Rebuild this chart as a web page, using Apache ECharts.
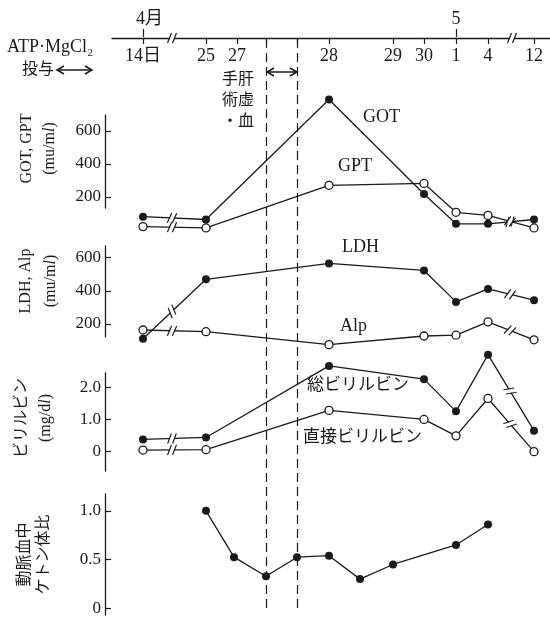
<!DOCTYPE html>
<html>
<head>
<meta charset="utf-8">
<script src="https://cdn.jsdelivr.net/npm/echarts@6/dist/echarts.min.js"></script>
<style>
  html, body { margin: 0; padding: 0; background: #fff; }
  #chart { width: 550px; height: 617px; }
</style>
</head>
<body>
<div id="chart"></div>
<script>
// 時間軸 (目盛の位置は任意単位、14日 = 0)
const dateLabels = ['14日', '25', '27', '28', '29', '30', '1', '4', '12']
const datePos = [0, 63, 94, 186, 250, 281, 313, 345, 391]
const monthLabels = ['4月', '5']
const monthPos = [0, 313]
const surgeryPos = [123, 154]
const axisBreaks = [29, 369]
const lineBreaks = [29, 367]

// 14, 25, 28, 30, 1, 4, 12
const labDays = [0, 63, 186, 281, 313, 345, 391]
const got = [79, 62, 791, 217, 36, 36, 62]
const gpt = [19, 11, 270, 281, 106, 87, 11]
const ldh = [112, 469, 564, 522, 333, 411, 343]
const alp = [164, 154, 76, 128, 133, 213, 105]
const biliTotal = [0.38, 0.44, 2.66, 2.25, 1.25, 3.01, 0.65]
const biliDirect = [0.05, 0.06, 1.28, 1.0, 0.49, 1.65, 0]

const ketoneDays = [63, 91, 123, 154, 186, 217, 250, 313, 345]
const ketone = [1.0, 0.525, 0.33, 0.525, 0.54, 0.30, 0.45, 0.65, 0.86]

const enzymeTicks = [200, 400, 600]
const biliTicks = [0, 1, 2]
const ketoneTicks = [0, 0.5, 1]

const ink = '#1a1a1a'
const serif = "'Liberation Serif', 'Noto Sans CJK JP', serif"
const xMin = -31
const xMax = 407

const panels = [
  { top: 115, height: 93, min: 132, max: 697, ticks: enzymeTicks, name: 'GOT, GPT\n(mu/m{i|l})', lh: 23, gap: 44, shift: 26 },
  { top: 246, height: 91, min: 122, max: 669, ticks: enzymeTicks, name: 'LDH, Alp\n(mu/m{i|l})', lh: 25, gap: 42, shift: 21 },
  { top: 373, height: 98, min: -0.6, max: 2.44, ticks: biliTicks, name: 'ビリルビン\n(mg/d{i|l})', lh: 24, gap: 47, shift: 8, dec: true },
  { top: 494, height: 121, min: -0.068, max: 1.173, ticks: ketoneTicks, name: '動脈血中\nケトン体比', lh: 19, gap: 52, shift: 0, dec: true },
]

const zip = (xs, ys) => xs.map((x, i) => [x, ys[i]])
// grid 0 has two x axes, so grid g (>0) uses xAxis g + 1
const xIdx = (g) => (g === 0 ? 0 : g + 1)

const lineSeries = (g, xs, ys, filled) => ({
  type: 'line',
  xAxisIndex: xIdx(g),
  yAxisIndex: g,
  data: zip(xs, ys),
  clip: false,
  symbol: 'circle',
  symbolSize: 8,
  lineStyle: { color: ink, width: 1.3 },
  itemStyle: filled ? { color: ink } : { color: '#fff', borderColor: ink, borderWidth: 1.3 },
  emphasis: { disabled: true },
  z: 3,
})

// 線上の省略記号 (//)
const breakSeries = (g, lines, breaks) => {
  const data = []
  lines.forEach((ln, li) => breaks.forEach((b) => data.push([b, li])))
  return {
    type: 'custom',
    xAxisIndex: xIdx(g),
    yAxisIndex: g,
    silent: true,
    z: 6,
    data,
    renderItem: (params, api) => {
      const bx = api.value(0)
      const ln = lines[api.value(1)]
      let i = 0
      while (i < ln.length - 2 && ln[i + 1][0] < bx) i++
      const a = api.coord(ln[i])
      const b = api.coord(ln[i + 1])
      const t = (bx - ln[i][0]) / (ln[i + 1][0] - ln[i][0])
      const ang = Math.atan2(b[1] - a[1], b[0] - a[0])
      return {
        type: 'group',
        x: a[0] + (b[0] - a[0]) * t,
        y: a[1] + (b[1] - a[1]) * t,
        rotation: -ang,
        children: [
          { type: 'rect', shape: { x: -2, y: -3, width: 4, height: 6 }, style: { fill: '#fff' } },
          { type: 'line', shape: { x1: -4.5, y1: 5, x2: -0.5, y2: -5 }, style: { stroke: ink, lineWidth: 1.2 } },
          { type: 'line', shape: { x1: 0.5, y1: 5, x2: 4.5, y2: -5 }, style: { stroke: ink, lineWidth: 1.2 } },
        ],
      }
    },
  }
}

const doubleArrow = (x1, x2, y) => ({
  type: 'group',
  children: [
    { type: 'line', shape: { x1, y1: y, x2, y2: y }, style: { stroke: ink, lineWidth: 1.5 } },
    { type: 'polyline', shape: { points: [[x1 + 7, y - 4], [x1, y], [x1 + 7, y + 4]] }, style: { stroke: ink, lineWidth: 1.5, fill: null } },
    { type: 'polyline', shape: { points: [[x2 - 7, y - 4], [x2, y], [x2 - 7, y + 4]] }, style: { stroke: ink, lineWidth: 1.5, fill: null } },
  ],
})

const label = (text, x, y, size, align) => ({
  type: 'text',
  x,
  y,
  style: { text, fill: ink, font: `${size || 18}px ${serif}`, align: align || 'left', verticalAlign: 'middle' },
})

const grids = [{ left: 112, right: 0, top: 37, height: 1 }]
const xAxes = [
  {
    gridIndex: 0, type: 'value', min: xMin, max: xMax, position: 'bottom',
    axisLine: { onZero: false, lineStyle: { color: ink, width: 1.3 } },
    axisTick: { customValues: datePos.concat(surgeryPos), length: 6, lineStyle: { color: ink, width: 1.2 } },
    axisLabel: {
      customValues: datePos, margin: 9, color: ink, fontSize: 18, fontFamily: serif,
      formatter: (v) => dateLabels[datePos.indexOf(v)],
    },
    splitLine: { show: false },
  },
  {
    gridIndex: 0, type: 'value', min: xMin, max: xMax, position: 'top',
    axisLine: { show: false, onZero: false },
    axisTick: { customValues: monthPos, length: 8, lineStyle: { color: ink, width: 1.2 } },
    axisLabel: {
      customValues: monthPos, margin: 9, color: ink, fontSize: 18, fontFamily: serif,
      formatter: (v) => {
        const s = monthLabels[monthPos.indexOf(v)]
        return v === monthPos[0] ? `{m|${s}}` : s
      },
      rich: { m: { fontSize: 18, fontFamily: serif, color: ink, padding: [0, 0, 0, 13] } },
    },
    splitLine: { show: false },
  },
]
const yAxes = [{ gridIndex: 0, type: 'value', min: 0, max: 1, show: false }]

panels.forEach((p, k) => {
  const g = k + 1
  grids.push({ left: 112, right: 0, top: p.top, height: p.height })
  xAxes.push({ gridIndex: g, type: 'value', min: xMin, max: xMax, show: false })
  yAxes.push({
    gridIndex: g, type: 'value', min: p.min, max: p.max, offset: 7,
    axisLine: { show: true, onZero: false, lineStyle: { color: ink, width: 1.3 } },
    axisTick: { show: true, inside: true, length: 6, customValues: p.ticks, lineStyle: { color: ink, width: 1.2 } },
    axisLabel: {
      customValues: p.ticks, margin: 4, color: ink, fontSize: 17, fontFamily: serif,
      formatter: (v) => (p.dec ? (v === 0 ? '0' : v.toFixed(1)) : String(v)),
    },
    splitLine: { show: false },
    name: p.name,
    nameLocation: 'middle',
    nameRotate: 90,
    nameGap: p.gap,
    nameTextStyle: {
      color: ink, fontSize: 16, fontFamily: serif, lineHeight: p.lh, padding: [0, 0, 0, p.shift],
      rich: { i: { fontStyle: 'italic', fontSize: 16, fontFamily: serif, color: ink } },
    },
  })
})

// 破線 (手術・肝虚血)
grids.push({ left: 112, right: 0, top: 38, bottom: 9 })
xAxes.push({ gridIndex: 5, type: 'value', min: xMin, max: xMax, show: false })
yAxes.push({ gridIndex: 5, type: 'value', min: 0, max: 1, show: false })

const series = [
  lineSeries(1, labDays, got, true),
  lineSeries(1, labDays, gpt, false),
  lineSeries(2, labDays, ldh, true),
  lineSeries(2, labDays, alp, false),
  lineSeries(3, labDays, biliTotal, true),
  lineSeries(3, labDays, biliDirect, false),
  lineSeries(4, ketoneDays, ketone, true),
  breakSeries(0, [[[xMin, 0], [xMax, 0]]], axisBreaks),
  breakSeries(1, [zip(labDays, got), zip(labDays, gpt)], lineBreaks),
  breakSeries(2, [zip(labDays, ldh), zip(labDays, alp)], lineBreaks),
  breakSeries(3, [zip(labDays, biliTotal), zip(labDays, biliDirect)], lineBreaks),
  {
    type: 'line', xAxisIndex: xIdx(5), yAxisIndex: 5, data: [], silent: true,
    markLine: {
      silent: true, symbol: 'none', label: { show: false },
      lineStyle: { color: ink, width: 1.2, type: [9, 5] },
      data: surgeryPos.map((x) => ({ xAxis: x })),
    },
  },
]

const chart = echarts.init(document.getElementById('chart'))
chart.setOption({
  animation: false,
  backgroundColor: '#fff',
  grid: grids,
  xAxis: xAxes,
  yAxis: yAxes,
  series,
  graphic: [
    label('ATP·MgCl₂', 7, 47),
    label('投与', 22, 70, 16),
    doubleArrow(57, 92, 70),
    doubleArrow(267, 297, 72),
    {
      type: 'text', x: 254, y: 101,
      style: { text: '手肝\n術虚\n・血', fill: ink, font: `16px ${serif}`, lineHeight: 21, align: 'right', verticalAlign: 'middle' },
    },
    label('GOT', 363, 117),
    label('GPT', 338, 166),
    label('LDH', 342, 247),
    label('Alp', 340, 326),
    label('総ビリルビン', 307, 386, 17),
    label('直接ビリルビン', 303, 438, 17),
  ],
})
</script>
</body>
</html>
